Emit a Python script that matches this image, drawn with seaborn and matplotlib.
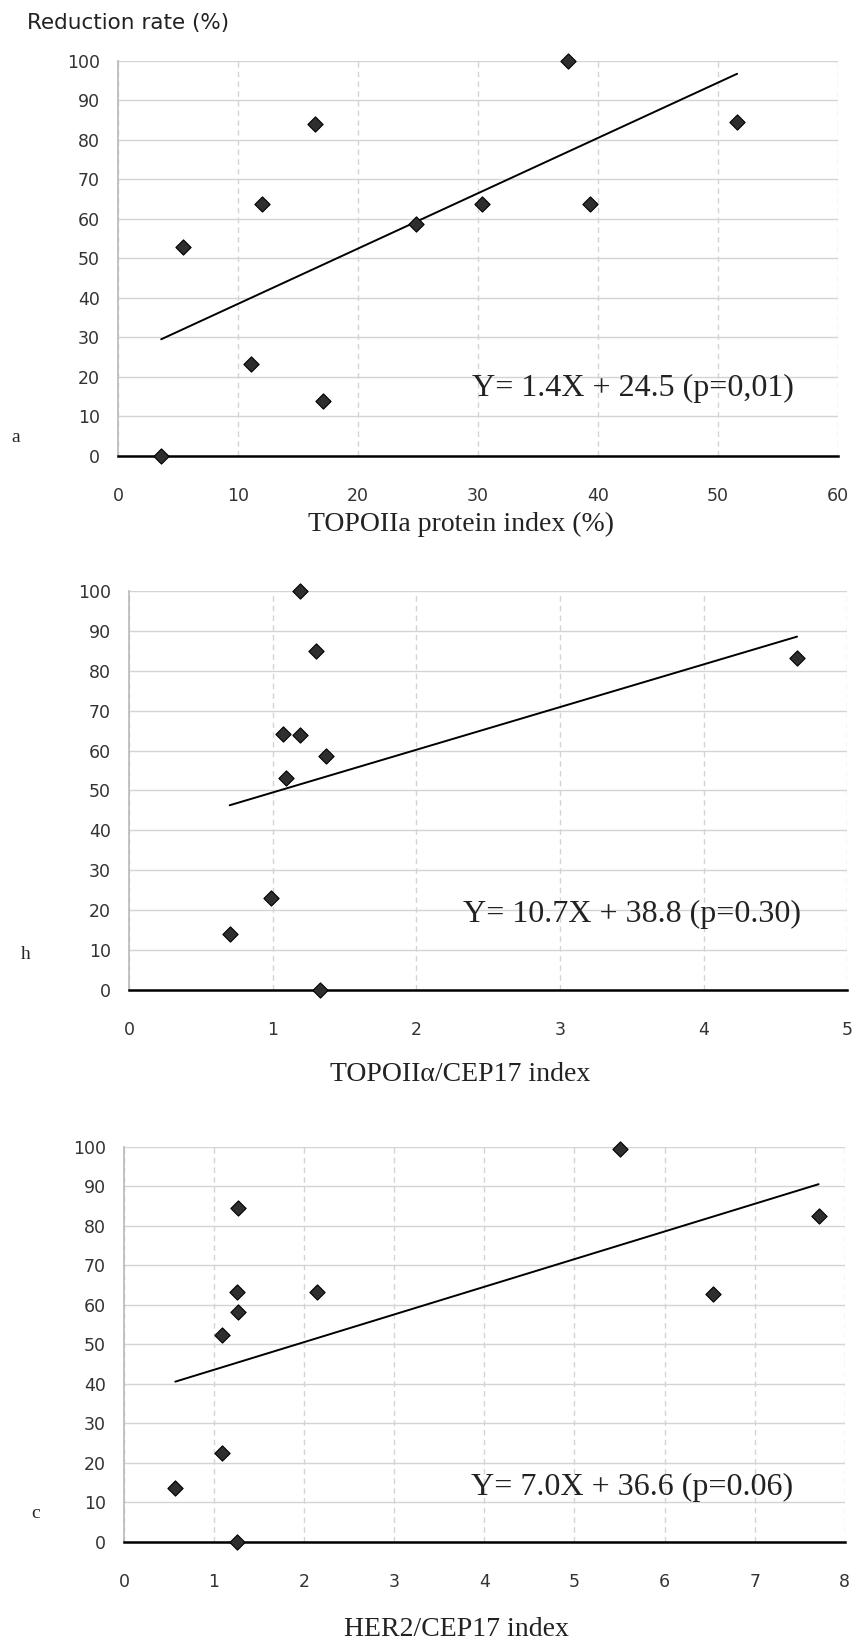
import numpy as np
import pandas as pd
import matplotlib.pyplot as plt
import seaborn as sns

# panel a: TOPOIIa protein index vs reduction rate
topo_protein = [3.6, 5.45, 11.1, 12.0, 16.4, 17.1, 24.8, 30.3, 37.5, 39.3, 51.6]
reduction_a = [0, 53, 23.3, 63.9, 84, 13.8, 58.8, 63.9, 100, 63.7, 84.5]
# panel b: TOPOIIa/CEP17 index
topo_cep17 = [1.19, 1.30, 1.07, 1.19, 1.37, 1.09, 4.65, 0.99, 0.70, 1.33]
reduction_b = [100, 85, 64.1, 63.9, 58.6, 53, 83.2, 23.1, 14, 0]
# panel c: HER2/CEP17 index
her2_cep17 = [5.5, 1.27, 7.71, 1.25, 2.14, 6.54, 1.27, 1.09, 1.09, 0.57, 1.25]
reduction_c = [99.5, 84.6, 82.5, 63.3, 63.3, 62.8, 58.2, 52.5, 22.6, 13.7, 0]

# regression equations printed on the panels
slopes = [1.4, 10.7, 7.0]
intercepts = [24.5, 38.8, 36.6]
p_values = ["0,01", "0.30", "0.06"]

x_labels = ["TOPOIIa protein index (%)", "TOPOII\u03b1/CEP17 index", "HER2/CEP17 index"]
x_max = [60, 5, 8]
x_step = [10, 1, 1]
panel_letters = ["a", "h", "c"]

sns.set_theme(style="white")
plt.rcParams['font.family'] = ['DejaVu Sans']
serif = ['Liberation Serif', 'DejaVu Serif']

fig = plt.figure(figsize=(8.55, 16.42), dpi=100)
# axes boxes in figure fractions
boxes = [[0.138, 0.7223, 0.842, 0.2406],
         [0.151, 0.3971, 0.840, 0.2430],
         [0.145, 0.0609, 0.843, 0.2406]]
label_pos = [(0.476, -0.142), (0.461, -0.18), (0.461, -0.19)]
eq_pos = [(42.9, 17.2), (3.50, 19.0), (5.64, 13.7)]
letter_pos = [(16, 437), (26, 954), (36, 1513)]

panels = [(topo_protein, reduction_a), (topo_cep17, reduction_b), (her2_cep17, reduction_c)]

for i, (xs, ys) in enumerate(panels):
    ax = fig.add_axes(boxes[i])
    df = pd.DataFrame({'x': xs, 'y': ys})
    # trend line from printed equation, over the data range
    line_x = np.array([df.x.min(), df.x.max()])
    line_df = pd.DataFrame({'x': line_x, 'y': slopes[i] * line_x + intercepts[i]})
    sns.lineplot(data=line_df, x='x', y='y', color='black', lw=1.4, ax=ax, zorder=2)
    sns.scatterplot(data=df, x='x', y='y', marker='D', s=60, color='#2e2e2e',
                    edgecolor='black', linewidth=0.8, ax=ax, clip_on=False, zorder=3)
    ax.set_xlim(0, x_max[i])
    ax.set_ylim(0, 100)
    ax.set_xticks(np.arange(0, x_max[i] + 1, x_step[i]))
    ax.set_yticks(np.arange(0, 101, 10))
    ax.grid(axis='y', color='#d4d4d4', lw=1.0)
    ax.grid(axis='x', color='#d4d4d4', lw=1.0, ls=(0, (4, 3)))
    ax.set_axisbelow(True)
    for side in ['top', 'right']:
        ax.spines[side].set_visible(False)
    ax.spines['left'].set_color('#bbbbbb')
    ax.spines['bottom'].set_color('black')
    ax.spines['bottom'].set_linewidth(1.8)
    ax.tick_params(axis='x', length=0, pad=22, labelsize=12.5, labelcolor='#333333')
    ax.tick_params(axis='y', length=0, pad=13, labelsize=12.5, labelcolor='#333333')
    ax.set_ylabel('')
    ax.set_xlabel(x_labels[i], family=serif, fontsize=20, color='#222222')
    ax.xaxis.set_label_coords(*label_pos[i])
    eq = f"Y= {slopes[i]:.1f}X + {intercepts[i]:.1f} (p={p_values[i]})"
    ax.text(eq_pos[i][0], eq_pos[i][1], eq, ha='center', va='center',
            family=serif, fontsize=23, color='#222222')
    fig.text(letter_pos[i][0] / 855, 1 - letter_pos[i][1] / 1642, panel_letters[i],
             family=serif, fontsize=14, ha='center', va='center')

fig.text(27 / 855, 1 - 23 / 1642, "Reduction rate (%)", fontsize=15.5,
         ha='left', va='center', color='#222222')

plt.savefig('out.png', dpi=100)
plt.close('all')
